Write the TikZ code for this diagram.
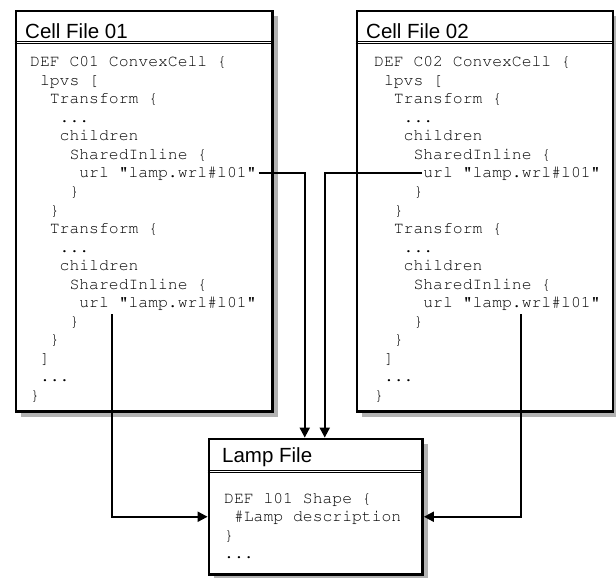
\documentclass[tikz,border=0pt]{standalone}
\usepackage[T1]{fontenc}
\usepackage{fontspec}
\setmainfont{Liberation Sans}
\setmonofont{Liberation Mono}
\newcommand\courierfont{\fontencoding{T1}\fontfamily{pcr}\fontseries{m}\fontshape{n}\fontsize{16.4bp}{18.5bp}\selectfont}
\usetikzlibrary{arrows.meta}
\begin{document}
\begin{tikzpicture}[x=1bp,y=-1bp,
  filebox/.style={draw=black, line width=2.8bp, fill=white, rectangle, inner sep=0pt},
  shadowfill/.style={fill=gray!60},
  titletext/.style={anchor=base west, inner sep=0pt, font=\fontsize{20.5bp}{24bp}\selectfont},
  code/.style={anchor=base west, inner sep=0pt, font=\courierfont},
  sep/.style={line width=1bp},
  conn/.style={line width=2bp, -{Triangle[length=10bp,width=10bp]}},
]
\useasboundingbox (0,0) rectangle (616,578);
\def\cw{9.84}

% shadows
\fill[shadowfill] (21,16) rectangle (278,417);
\fill[shadowfill] (362,16) rectangle (618.4,417);
\fill[shadowfill] (214,444) rectangle (428,580);

% boxes
\node[filebox, minimum width=256.5bp, minimum height=400.5bp] (cell1) at (144.25,211.25) {};
\node[filebox, minimum width=256bp, minimum height=400.5bp] (cell2) at (485,211.25) {};
\node[filebox, minimum width=213.5bp, minimum height=135.5bp] (lamp) at (315.75,506.75) {};

% separators
\draw[sep] (cell1.west |- 0,41.5) -- (cell1.east |- 0,41.5);
\draw[sep] (cell1.west |- 0,44) -- (cell1.east |- 0,44);
\draw[sep] (cell2.west |- 0,41.5) -- (cell2.east |- 0,41.5);
\draw[sep] (cell2.west |- 0,44) -- (cell2.east |- 0,44);
\draw[sep] (lamp.west |- 0,470) -- (lamp.east |- 0,470);
\draw[sep] (lamp.west |- 0,472.5) -- (lamp.east |- 0,472.5);

% titles
\node[titletext] (t1) at (25,39) {Cell File 01};
\node[titletext] (t2) at (366,39) {Cell File 02};
\node[titletext] (t3) at (222,462) {Lamp File};

% cell file 01 code
\node[code] (a0) at (30+0*\cw,67) {DEF C01 ConvexCell \{};
\node[code] (a1) at (30+1*\cw,85.5) {lpvs [};
\node[code] (a2) at (30+2*\cw,104) {Transform \{};
\node[code] (a3) at (30+3*\cw,122.5) {...};
\node[code] (a4) at (30+3*\cw,141) {children};
\node[code] (a5) at (30+4*\cw,159.5) {SharedInline \{};
\node[code] (u1) at (30+5*\cw,178) {url "lamp.wrl\#l01"};
\node[code] (a7) at (30+4*\cw,196.5) {\}};
\node[code] (a8) at (30+2*\cw,215) {\}};
\node[code] (a9) at (30+2*\cw,233.5) {Transform \{};
\node[code] (a10) at (30+3*\cw,252) {...};
\node[code] (a11) at (30+3*\cw,270.5) {children};
\node[code] (a12) at (30+4*\cw,289) {SharedInline \{};
\node[code] (u3) at (30+5*\cw,307.5) {url "lamp.wrl\#l01"};
\node[code] (a14) at (30+4*\cw,326) {\}};
\node[code] (a15) at (30+2*\cw,344.5) {\}};
\node[code] (a16) at (30+1*\cw,363) {]};
\node[code] (a17) at (30+1*\cw,381.5) {...};
\node[code] (a18) at (30+0*\cw,400) {\}};

% cell file 02 code
\node[code] (b0) at (374+0*\cw,67) {DEF C02 ConvexCell \{};
\node[code] (b1) at (374+1*\cw,85.5) {lpvs [};
\node[code] (b2) at (374+2*\cw,104) {Transform \{};
\node[code] (b3) at (374+3*\cw,122.5) {...};
\node[code] (b4) at (374+3*\cw,141) {children};
\node[code] (b5) at (374+4*\cw,159.5) {SharedInline \{};
\node[code] (u2) at (374+5*\cw,178) {url "lamp.wrl\#l01"};
\node[code] (b7) at (374+4*\cw,196.5) {\}};
\node[code] (b8) at (374+2*\cw,215) {\}};
\node[code] (b9) at (374+2*\cw,233.5) {Transform \{};
\node[code] (b10) at (374+3*\cw,252) {...};
\node[code] (b11) at (374+3*\cw,270.5) {children};
\node[code] (b12) at (374+4*\cw,289) {SharedInline \{};
\node[code] (u4) at (374+5*\cw,307.5) {url "lamp.wrl\#l01"};
\node[code] (b14) at (374+4*\cw,326) {\}};
\node[code] (b15) at (374+2*\cw,344.5) {\}};
\node[code] (b16) at (374+1*\cw,363) {]};
\node[code] (b17) at (374+1*\cw,381.5) {...};
\node[code] (b18) at (374+0*\cw,400) {\}};

% lamp code
\node[code] (c0) at (224+0*\cw,503) {DEF l01 Shape \{};
\node[code] (c1) at (224+1*\cw,521.5) {\#Lamp description};
\node[code] (c2) at (224+0*\cw,540) {\}};
\node[code] (c3) at (224+0*\cw,558.5) {...};

% connectors
\coordinate (d1) at (112,314);
\coordinate (d2) at (521,314);
\draw[conn] ([xshift=2bp,yshift=1bp]u1.east) -| ([xshift=-11bp]lamp.north);
\draw[conn] ([xshift=-1bp,yshift=1bp]u2.west) -| ([xshift=9bp]lamp.north);
\draw[conn] (d1) |- ([yshift=-10bp]lamp.west);
\draw[conn] (d2) |- ([yshift=-10bp]lamp.east);
\end{tikzpicture}
\end{document}
